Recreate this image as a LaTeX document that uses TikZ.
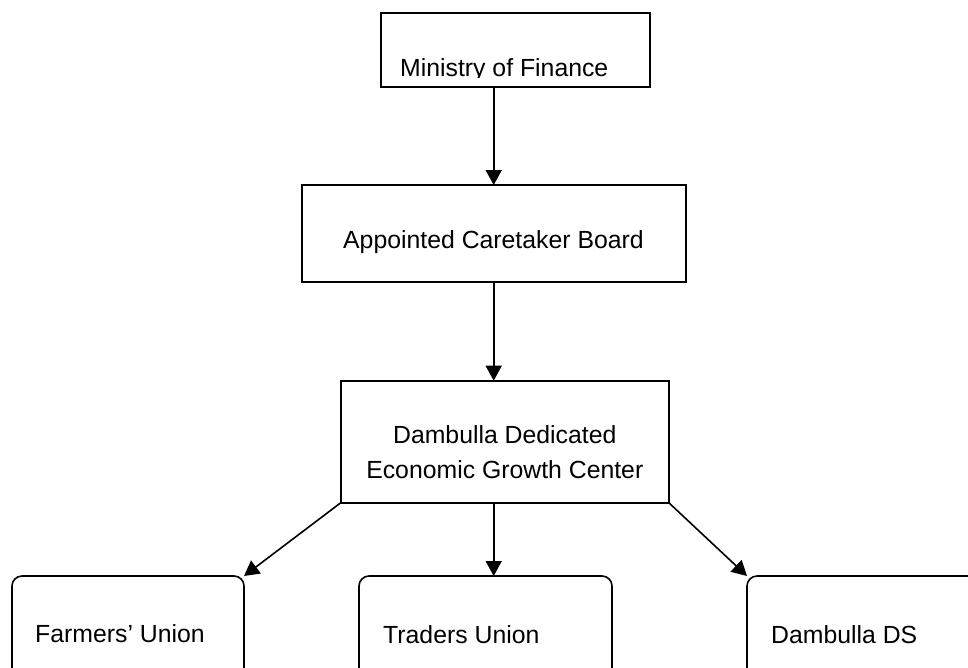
\documentclass[tikz,border=0pt]{standalone}
\usepackage{fontspec}
\setmainfont{Liberation Sans}
\usetikzlibrary{arrows.meta}

\begin{document}

\begin{tikzpicture}[x=1pt,y=-1pt,>={Triangle[length=15pt,width=16pt]},
  font=\fontsize{24.8}{35}\selectfont,
  box/.style={draw=black,line width=1.6pt,inner sep=0pt,outer sep=0pt},
  roundbox/.style={box,rounded corners=10pt,minimum width=#1,minimum height=124pt},
  lbl/.style={inner sep=0pt,text=black}]

\useasboundingbox (0,0) rectangle (968,667);
\clip (0,0) rectangle (968,667);

% ---------- top levels ----------
\node[box,minimum width=269pt,minimum height=74pt] (min) at (515.5,50) {};
\begin{scope}
  \clip (min.north west) rectangle (650,77);
  \node[lbl,anchor=base west] (min-t) at (400,76) {Ministry of Finance};
\end{scope}

\node[box,minimum width=384pt,minimum height=97pt] (app) at (493.7,233.5) {};
\node[lbl,anchor=base west] (app-t) at (343,248) {Appointed Caretaker Board};

\node[box,minimum width=328pt,minimum height=122pt] (degc) at (504.8,441.7) {};
\node[lbl,align=center] (degc-t) at (504.8,452) {Dambulla Dedicated\\Economic Growth Center};

% ---------- bottom row ----------
\node[roundbox=232pt] (frm) at (128,638) {};
\node[lbl,anchor=base west] (frm-t) at (35,642) {Farmers’ Union};

\node[roundbox=253pt] (trd) at (485.5,638) {};
\node[lbl,anchor=base west] (trd-t) at (383,643) {Traders Union};

\node[roundbox=253pt] (ds) at (873.5,638) {};
\node[lbl,anchor=base west] (ds-t) at (771,643) {Dambulla DS};

% ---------- arrows ----------
\draw[->,line width=1.6pt] (min.south -| app) -- (app.north);
\draw[->,line width=1.6pt] (app.south) -- (degc.north -| app);
\draw[->,line width=1.6pt] (degc.south -| app) -- (trd.north -| app);
\draw[->,line width=1.6pt] (degc.south west) -- (frm.north east);
\draw[->,line width=1.6pt] (degc.south east) -- (ds.north west);

\end{tikzpicture}
\end{document}
